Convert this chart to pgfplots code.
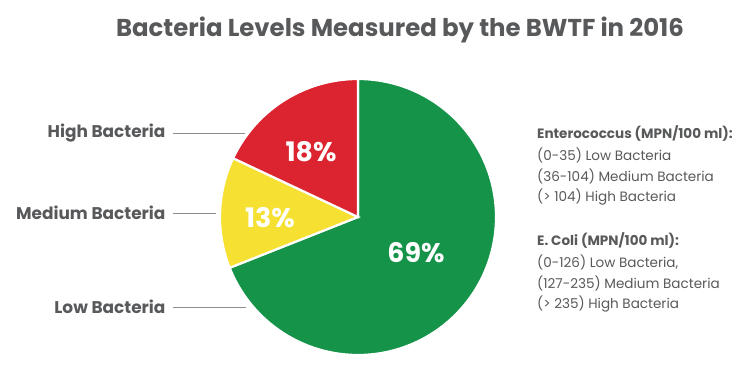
\documentclass[border=0pt]{standalone}
\usepackage{pgfplots}
\usepackage{pgfplotstable}
\pgfplotsset{compat=1.18}
\usepackage{fontspec}
\setmainfont{Poppins}
\definecolor{pred}{HTML}{DC2430}
\definecolor{pyel}{HTML}{F6E032}
\definecolor{pgrn}{HTML}{149349}
\definecolor{tgray}{HTML}{58595B}
\definecolor{lgray}{HTML}{8C8C8C}

\pgfplotstableread{
label value
Low 69
Medium 13
High 18
}\piedata
\pgfplotstablegetelem{0}{value}\of\piedata \let\vLow\pgfplotsretval
\pgfplotstablegetelem{1}{value}\of\piedata \let\vMed\pgfplotsretval
\pgfplotstablegetelem{2}{value}\of\piedata \let\vHigh\pgfplotsretval

\begin{document}
\begin{tikzpicture}
\path[use as bounding box] (0,0) rectangle (754bp,391bp);
\begin{axis}[
  at={(0,0)}, anchor=south west,
  scale only axis, width=754bp, height=391bp,
  xmin=0, xmax=754, ymin=0, ymax=391,
  hide axis, clip=false,
]
% pie: centre (358,174), radius 138, start at 90 deg, clockwise
\addplot[fill=pgrn, draw=white, line width=2.2pt, domain={90-3.6*\vLow}:90, samples=120, variable=\t]
  ({358+138*cos(t)},{174+138*sin(t)}) -- (axis cs:358,174) -- cycle;
\addplot[fill=pyel, draw=white, line width=2.2pt, domain={90-3.6*(\vLow+\vMed)}:{90-3.6*\vLow}, samples=40, variable=\t]
  ({358+138*cos(t)},{174+138*sin(t)}) -- (axis cs:358,174) -- cycle;
\addplot[fill=pred, draw=white, line width=2.2pt, domain={90-3.6*(\vLow+\vMed+\vHigh)}:{90-3.6*(\vLow+\vMed)}, samples=40, variable=\t]
  ({358+138*cos(t)},{174+138*sin(t)}) -- (axis cs:358,174) -- cycle;

% percentages
\node[text=white, font=\bfseries\fontsize{27}{30}\selectfont] at (axis cs:311,239) {\vHigh\%};
\node[text=white, font=\bfseries\fontsize{27}{30}\selectfont] at (axis cs:270,173) {\vMed\%};
\node[text=white, font=\bfseries\fontsize{27}{30}\selectfont] at (axis cs:416,138) {\vLow\%};

% title
\node[text=tgray, font=\bfseries\fontsize{24.5}{28}\selectfont] at (axis cs:400,361) {Bacteria Levels Measured by the BWTF in 2016};

% left labels
\node[text=tgray, font=\bfseries\fontsize{17}{20}\selectfont, anchor=east] at (axis cs:169,258) {High Bacteria};
\node[text=tgray, font=\bfseries\fontsize{17}{20}\selectfont, anchor=east] at (axis cs:169,178) {Medium Bacteria};
\node[text=tgray, font=\bfseries\fontsize{17}{20}\selectfont, anchor=east] at (axis cs:169,84) {Low Bacteria};
\draw[lgray, line width=0.7pt] (axis cs:173,258) -- (axis cs:245,258);
\draw[lgray, line width=0.7pt] (axis cs:173,178) -- (axis cs:216,178);
\draw[lgray, line width=0.7pt] (axis cs:173,84) -- (axis cs:246,84);

% right legend text
\begin{scope}[every node/.style={anchor=west, text=tgray, font=\fontsize{13.6}{16}\selectfont, inner sep=0pt}]
\node[font=\bfseries\fontsize{13.6}{16}\selectfont] at (axis cs:537,258) {Enterococcus (MPN/100 ml):};
\node at (axis cs:537,236) {(0-35) Low Bacteria};
\node at (axis cs:537,215) {(36-104) Medium Bacteria};
\node at (axis cs:537,194) {(> 104) High Bacteria};
\node[font=\bfseries\fontsize{13.6}{16}\selectfont] at (axis cs:537,151) {E. Coli (MPN/100 ml):};
\node at (axis cs:537,129) {(0-126) Low Bacteria,};
\node at (axis cs:537,108) {(127-235) Medium Bacteria};
\node at (axis cs:537,87) {(> 235) High Bacteria};
\end{scope}
\end{axis}
\end{tikzpicture}
\end{document}
